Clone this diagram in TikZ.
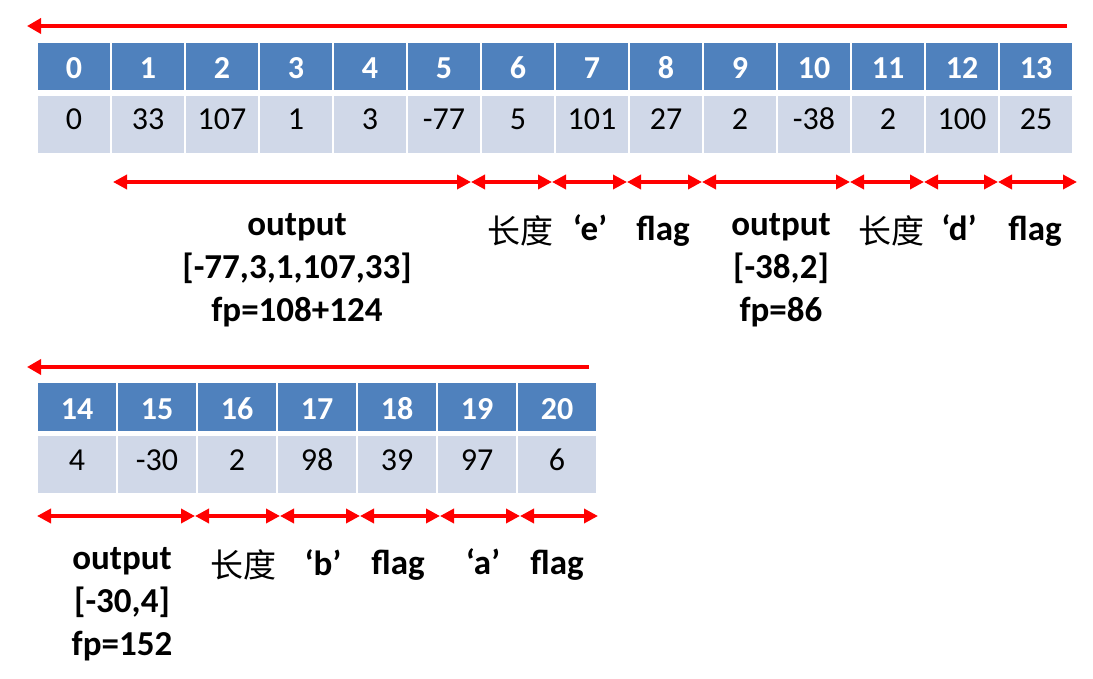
\documentclass[tikz,border=0pt]{standalone}
\usepackage{fontspec}
\setmainfont{Carlito}
\newfontfamily\cjk{Noto Sans CJK SC}
\usetikzlibrary{arrows.meta}
\definecolor{hblue}{RGB}{79,129,189}
\definecolor{vblue}{RGB}{208,216,232}
\definecolor{ared}{RGB}{255,0,0}
\tikzset{
  hcell/.style={fill=hblue, inner sep=0pt, text=white, font=\bfseries\fontsize{32}{32}\selectfont, text height=24pt, text depth=0pt},
  vcell/.style={fill=vblue, inner sep=0pt, text=black, font=\fontsize{32}{32}\selectfont, text height=11pt, text depth=0pt},
  topcell/.style={minimum width=72pt},
  botcell/.style={minimum width=78pt},
  lab/.style={inner sep=0pt, anchor=base, font=\bfseries\fontsize{35}{35}\selectfont},
  cjklab/.style={inner sep=0pt, anchor=base, font=\cjk\fontsize{33}{33}\selectfont},
  seg/.style={draw=ared, line width=4pt, {Triangle[length=14pt,width=14pt]}-{Triangle[length=14pt,width=14pt]}},
  dirarrow/.style={draw=ared, line width=4.5pt, -{Triangle[length=14pt,width=15pt]}}
}
\begin{document}
\begin{tikzpicture}[x=1pt,y=-1pt]
\useasboundingbox (0,0) rectangle (1093,679);
% top table
\foreach \v [count=\i from 0] in {0,33,107,1,3,-77,5,101,27,2,-38,2,100,25}{
  \node[hcell,topcell,minimum height=47pt] (h\i) at ({74+74*\i},66.5) {\i};
  \node[vcell,topcell,minimum height=57pt] (v\i) at ({74+74*\i},124.5) {\v};
}
% bottom table
\foreach \v [count=\j from 0] in {4,-30,2,98,39,97,6}{
  \pgfmathtruncatemacro{\k}{\j+14}
  \node[hcell,botcell,minimum height=48pt] (h\k) at ({77+80*\j},407) {\k};
  \node[vcell,botcell,minimum height=57pt] (v\k) at ({77+80*\j},464.5) {\v};
}
% direction arrows
\coordinate (t1s) at (1067,26);
\coordinate (t1e) at (27,26);
\draw[dirarrow] (t1s) -- (t1e);
\coordinate (t2s) at (589,367);
\coordinate (t2e) at (27,367);
\draw[dirarrow] (t2s) -- (t2e);
% segment arrows, row 1
\foreach \x [count=\n from 0] in {113,471,552,627,702,850,924,998,1077}{
  \coordinate (a\n) at (\x,182);
}
\foreach \p/\q in {0/1,1/2,2/3,3/4,4/5,5/6,6/7,7/8}{
  \draw[seg] (a\p) -- (a\q);
}
% segment arrows, row 2
\foreach \x [count=\n from 0] in {37,195,280,360,440,520,598}{
  \coordinate (b\n) at (\x,516);
}
\foreach \p/\q in {0/1,1/2,2/3,3/4,4/5,5/6}{
  \draw[seg] (b\p) -- (b\q);
}
% labels row 1
\node[lab] (o1a) at (297,236) {output};
\node[lab] (o1b) at (297,279) {[-77,3,1,107,33]};
\node[lab] (o1c) at (297,321) {fp=108+124};
\node[cjklab] (len1) at (520,244) {长度};
\node[lab] (e1) at (590,241) {‘e’};
\node[lab] (f1) at (663,241) {flag};
\node[lab] (o2a) at (781,236) {output};
\node[lab] (o2b) at (781,279) {[-38,2]};
\node[lab] (o2c) at (781,321) {fp=86};
\node[cjklab] (len2) at (891,244) {长度};
\node[lab] (d1) at (959,241) {‘d’};
\node[lab] (f2) at (1035,241) {flag};
% labels row 2
\node[lab] (o3a) at (122,569) {output};
\node[lab] (o3b) at (122,612) {[-30,4]};
\node[lab] (o3c) at (122,655) {fp=152};
\node[cjklab] (len3) at (243,577) {长度};
\node[lab] (b1) at (323,575) {‘b’};
\node[lab] (f3) at (398,574) {flag};
\node[lab] (a1) at (483,574) {‘a’};
\node[lab] (f4) at (557,574) {flag};
\end{tikzpicture}
\end{document}
